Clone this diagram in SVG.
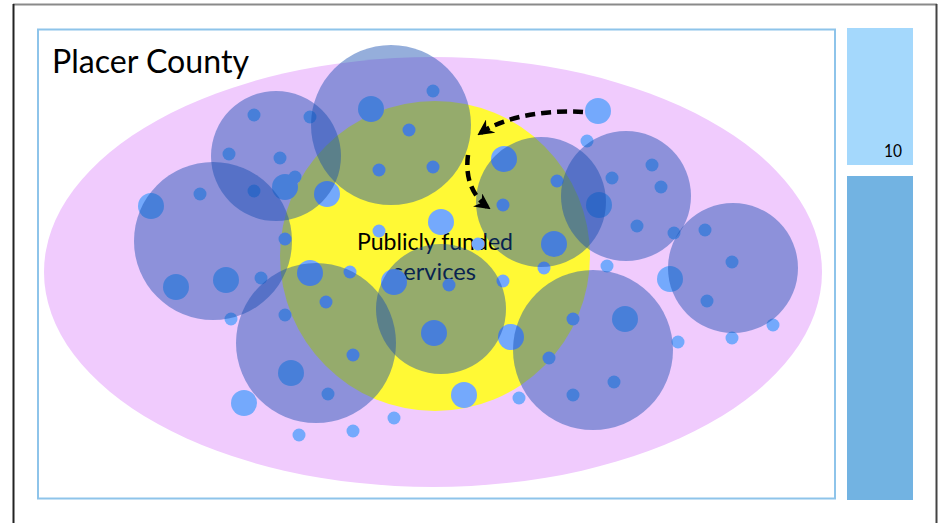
<svg xmlns="http://www.w3.org/2000/svg" width="943" height="523" viewBox="0 0 943 523">
<style>
.big{fill:rgb(20,75,175);fill-opacity:0.45}
.dot{fill:#74a9fc}
.lbl{font-family:"Gill Sans","Lato","Open Sans",sans-serif;fill:#000}
.dash{fill:none;stroke:#000;stroke-width:4.5;stroke-dasharray:10 6}
</style>
<defs>
<marker id="ah" viewBox="0 0 16 16" refX="14" refY="8" markerWidth="16" markerHeight="16" markerUnits="userSpaceOnUse" orient="auto">
<path d="M0,0 L16,8 L0,16 L5,8 Z" fill="#000"/>
</marker>
</defs>
<rect x="0" y="0" width="943" height="523" fill="#fff"/>
<g id="frame">
<line x1="13" y1="4.5" x2="937" y2="4.5" stroke="#8a8a8a" stroke-width="2"/>
<line x1="13.5" y1="4" x2="13.5" y2="523" stroke="#222" stroke-width="2"/>
<line x1="936.5" y1="4" x2="936.5" y2="523" stroke="#444" stroke-width="2"/>
</g>
<g id="panel">
<rect x="38" y="29.5" width="797" height="469" fill="#fff" stroke="#8ec4ea" stroke-width="2"/>
</g>
<g id="sidebar">
<rect x="847" y="28" width="66" height="137" fill="#a4d8fc"/>
<rect x="847" y="176" width="66" height="324" fill="#72b3e2"/>
<text x="902" y="157" text-anchor="end" class="lbl" font-size="18" textLength="18" lengthAdjust="spacingAndGlyphs">10</text>
</g>
<g id="county">
<ellipse cx="433" cy="272" rx="389" ry="215" fill="#f0cbfd"/>
<text x="52" y="73" class="lbl" font-size="33" textLength="197" lengthAdjust="spacingAndGlyphs">Placer County</text>
</g>
<g id="public-services">
<circle cx="435" cy="256" r="155" fill="#fff935"/>
<text x="357" y="250" class="lbl" font-size="23" textLength="156" lengthAdjust="spacingAndGlyphs">Publicly funded</text>
<text x="393" y="280" class="lbl" font-size="23" textLength="83" lengthAdjust="spacingAndGlyphs">services</text>
</g>
<g id="individuals">
<circle class="dot" cx="254" cy="115" r="6.5"/>
<circle class="dot" cx="310" cy="117" r="6.5"/>
<circle class="dot" cx="371" cy="109" r="13"/>
<circle class="dot" cx="433" cy="91" r="6.5"/>
<circle class="dot" cx="229" cy="154" r="6.5"/>
<circle class="dot" cx="280" cy="158" r="6.5"/>
<circle class="dot" cx="409" cy="130" r="6.5"/>
<circle class="dot" cx="379" cy="170" r="6.5"/>
<circle class="dot" cx="433" cy="167" r="6.5"/>
<circle class="dot" cx="254" cy="191" r="6.5"/>
<circle class="dot" cx="285" cy="187" r="13"/>
<circle class="dot" cx="295" cy="177" r="6.5"/>
<circle class="dot" cx="327" cy="194" r="13"/>
<circle class="dot" cx="200" cy="194" r="6.5"/>
<circle class="dot" cx="151" cy="206" r="13"/>
<circle class="dot" cx="285" cy="239" r="6.5"/>
<circle class="dot" cx="379" cy="231" r="6.5"/>
<circle class="dot" cx="441" cy="222" r="13"/>
<circle class="dot" cx="478" cy="244" r="6.5"/>
<circle class="dot" cx="598" cy="111" r="13"/>
<circle class="dot" cx="587" cy="141" r="6.5"/>
<circle class="dot" cx="504" cy="159" r="13"/>
<circle class="dot" cx="557" cy="181" r="6.5"/>
<circle class="dot" cx="503" cy="205" r="6.5"/>
<circle class="dot" cx="612" cy="178" r="6.5"/>
<circle class="dot" cx="652" cy="165" r="6.5"/>
<circle class="dot" cx="661" cy="187" r="6.5"/>
<circle class="dot" cx="599" cy="205" r="13"/>
<circle class="dot" cx="637" cy="226" r="6.5"/>
<circle class="dot" cx="674" cy="233" r="6.5"/>
<circle class="dot" cx="705" cy="230" r="6.5"/>
<circle class="dot" cx="554" cy="244" r="13"/>
<circle class="dot" cx="732" cy="262" r="6.5"/>
<circle class="dot" cx="176" cy="287" r="13"/>
<circle class="dot" cx="226" cy="280" r="13"/>
<circle class="dot" cx="261" cy="278" r="6.5"/>
<circle class="dot" cx="310" cy="273" r="13"/>
<circle class="dot" cx="350" cy="272" r="6.5"/>
<circle class="dot" cx="394" cy="282" r="13"/>
<circle class="dot" cx="449" cy="285" r="6.5"/>
<circle class="dot" cx="231" cy="319" r="6.5"/>
<circle class="dot" cx="285" cy="315" r="6.5"/>
<circle class="dot" cx="326" cy="302" r="6.5"/>
<circle class="dot" cx="434" cy="333" r="13"/>
<circle class="dot" cx="353" cy="355" r="6.5"/>
<circle class="dot" cx="291" cy="373" r="13"/>
<circle class="dot" cx="328" cy="394" r="6.5"/>
<circle class="dot" cx="244" cy="403" r="13"/>
<circle class="dot" cx="464" cy="395" r="13"/>
<circle class="dot" cx="394" cy="418" r="6.5"/>
<circle class="dot" cx="353" cy="431" r="6.5"/>
<circle class="dot" cx="299" cy="435" r="6.5"/>
<circle class="dot" cx="544" cy="268" r="6.5"/>
<circle class="dot" cx="607" cy="266" r="6.5"/>
<circle class="dot" cx="503" cy="281" r="6.5"/>
<circle class="dot" cx="670" cy="279" r="13"/>
<circle class="dot" cx="707" cy="301" r="6.5"/>
<circle class="dot" cx="573" cy="319" r="6.5"/>
<circle class="dot" cx="625" cy="319" r="13"/>
<circle class="dot" cx="511" cy="337" r="13"/>
<circle class="dot" cx="549" cy="358" r="6.5"/>
<circle class="dot" cx="678" cy="342" r="6.5"/>
<circle class="dot" cx="732" cy="338" r="6.5"/>
<circle class="dot" cx="773" cy="325" r="6.5"/>
<circle class="dot" cx="614" cy="382" r="6.5"/>
<circle class="dot" cx="573" cy="395" r="6.5"/>
<circle class="dot" cx="519" cy="398" r="6.5"/>
</g>
<g id="communities">
<circle class="big" cx="276" cy="156" r="65"/>
<circle class="big" cx="391" cy="125" r="80"/>
<circle class="big" cx="213" cy="241" r="79"/>
<circle class="big" cx="316" cy="343" r="80"/>
<circle class="big" cx="441" cy="309" r="65"/>
<circle class="big" cx="541" cy="202" r="65"/>
<circle class="big" cx="626" cy="196" r="65"/>
<circle class="big" cx="733" cy="268" r="65"/>
<circle class="big" cx="593" cy="350" r="80"/>
</g>
<g id="connectors">
<path class="dash" d="M583,112 C552,110 508,114 479,134" marker-end="url(#ah)"/>
<path class="dash" d="M468,155 C465,178 472,196 489,208" marker-end="url(#ah)"/>
</g>
</svg>
